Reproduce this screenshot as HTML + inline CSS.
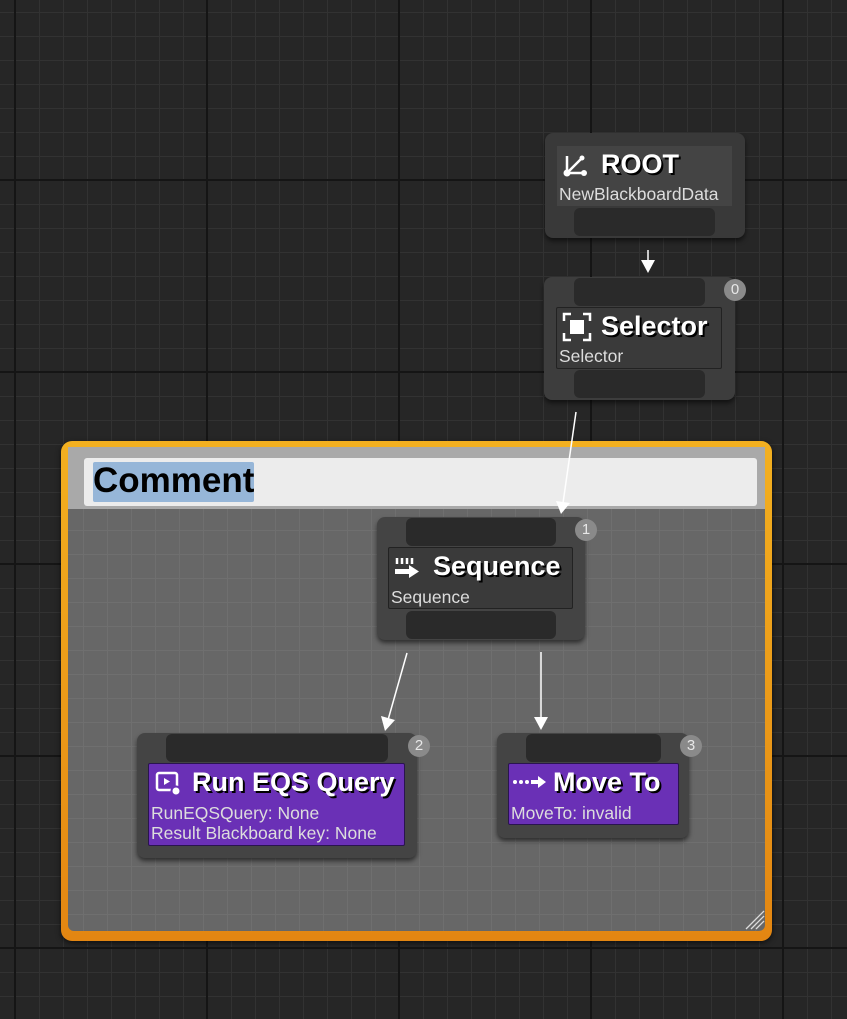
<!DOCTYPE html>
<html><head><meta charset="utf-8"><style>
*{margin:0;padding:0;box-sizing:border-box}
body{width:847px;height:1019px;overflow:hidden;position:relative;font-family:"Liberation Sans","DejaVu Sans",sans-serif;
background-color:#262626;
background-image:
linear-gradient(to right,#151515 2px,transparent 2px),
linear-gradient(to bottom,#151515 2px,transparent 2px),
linear-gradient(to right,#323232 1px,transparent 1px),
linear-gradient(to bottom,#323232 1px,transparent 1px);
background-size:192px 192px,192px 192px,24px 24px,24px 24px;
background-position:14px 0,0 179px,15px 0,0 12px;}
.abs{position:absolute}
.comment{left:61px;top:441px;width:711px;height:500px;border-radius:11px;background:linear-gradient(#f3b020,#e38612);box-shadow:0 2px 6px rgba(0,0,0,.6)}
.cbody{left:68px;top:447px;width:697px;height:484px;border-radius:4px 4px 6px 6px;background-color:#676767;
background-image:linear-gradient(to right,#6f6f6f 1px,transparent 1px),linear-gradient(to bottom,#6f6f6f 1px,transparent 1px);
background-size:24px 24px,24px 24px;background-position:15px 0,0 11px}
.chead{left:68px;top:447px;width:697px;height:62px;background:#a9a9a9}
.cbox{left:84px;top:458px;width:673px;height:48px;background:#ececec;border-radius:3px}
.sel{left:93px;top:462px;width:161px;height:40px;background:#96b6d8;border-radius:2px}
.ctext{left:93px;top:461px;font-size:35px;font-weight:bold;color:#000;line-height:40px}
.node{background:#3d3d3d;border-radius:8px;box-shadow:0 3px 5px rgba(0,0,0,.55)}
.pin{background:#2a2a2a;border-radius:6px}
.inner{background:#3a3a3a;border:1px solid #222;border-radius:2px}
.purple{background:#6a30b6;border:1px solid #2a1450;border-radius:2px}
.title{color:#fff;font-weight:bold;font-size:27px;text-shadow:2px 2px 0 #000;white-space:nowrap;line-height:32px}
.sub{color:#ddd;font-size:17.5px;white-space:nowrap;line-height:20px}
.badge{width:22px;height:22px;border-radius:50%;background:#8a8a8a;color:#e8e8e8;font-size:15px;text-align:center;line-height:22px}
</style></head><body>

<div class="abs comment"></div>
<div class="abs cbody"></div>
<div class="abs chead"></div>
<div class="abs cbox"></div>
<div class="abs sel"></div>
<div class="abs ctext">Comment</div>

<!-- ROOT -->
<div class="abs node" style="left:545px;top:133px;width:200px;height:105px;background:#393939"></div>
<div class="abs" style="left:557px;top:146px;width:175px;height:60px;background:#444"></div>
<div class="abs pin" style="left:574px;top:208px;width:141px;height:28px"></div>
<svg class="abs" style="left:562px;top:151px" width="28" height="28"><path d="M5 5 V22 H22 M5 22 L20 7" stroke="#fff" stroke-width="2.5" fill="none"/><circle cx="5" cy="22" r="3.5" fill="#fff"/><circle cx="22" cy="22" r="3" fill="#fff"/><circle cx="20" cy="7" r="2.5" fill="#fff"/></svg>
<div class="abs title" style="left:601px;top:148px">ROOT</div>
<div class="abs sub" style="left:559px;top:184px">NewBlackboardData</div>

<!-- Selector -->
<div class="abs node" style="left:544px;top:277px;width:191px;height:123px"></div>
<div class="abs pin" style="left:574px;top:278px;width:131px;height:28px"></div>
<div class="abs inner" style="left:556px;top:307px;width:166px;height:62px"></div>
<div class="abs pin" style="left:574px;top:370px;width:131px;height:28px"></div>
<svg class="abs" style="left:562px;top:312px" width="30" height="30"><path d="M2 9V2H9 M21 2H28V9 M28 21V28H21 M9 28H2V21" stroke="#fff" stroke-width="2.5" fill="none"/><rect x="8" y="8" width="14" height="14" fill="#fff"/></svg>
<div class="abs title" style="left:601px;top:310px">Selector</div>
<div class="abs sub" style="left:559px;top:346px">Selector</div>
<div class="abs badge" style="left:724px;top:279px">0</div>

<!-- Sequence -->
<div class="abs node" style="left:377px;top:517px;width:208px;height:123px;background:#444"></div>
<div class="abs pin" style="left:406px;top:518px;width:150px;height:28px"></div>
<div class="abs inner" style="left:388px;top:547px;width:185px;height:62px"></div>
<div class="abs pin" style="left:406px;top:611px;width:150px;height:28px"></div>
<svg class="abs" style="left:393px;top:555px" width="30" height="26"><path d="M4 3v6 M9 3v6 M14 3v6 M19 3v6" stroke="#fff" stroke-width="2.5"/><path d="M2 14H16 V10 L26 16.5 L16 23 V19 H2Z" fill="#fff"/></svg>
<div class="abs title" style="left:433px;top:550px">Sequence</div>
<div class="abs sub" style="left:391px;top:587px">Sequence</div>
<div class="abs badge" style="left:575px;top:519px">1</div>

<!-- Run EQS -->
<div class="abs node" style="left:137px;top:733px;width:280px;height:125px;background:#444"></div>
<div class="abs pin" style="left:166px;top:734px;width:222px;height:28px"></div>
<div class="abs purple" style="left:148px;top:763px;width:257px;height:83px"></div>
<svg class="abs" style="left:155px;top:770px" width="28" height="28"><rect x="2" y="3" width="20" height="17" rx="2" stroke="#fff" stroke-width="2.5" fill="none"/><path d="M9 8L15 11.5L9 15Z" fill="#fff"/><circle cx="21" cy="21" r="4.5" fill="#fff" stroke="#6a30b6" stroke-width="2"/></svg>
<div class="abs title" style="left:192px;top:766px">Run EQS Query</div>
<div class="abs sub" style="left:151px;top:803px">RunEQSQuery: None</div>
<div class="abs sub" style="left:151px;top:823px">Result Blackboard key: None</div>
<div class="abs badge" style="left:408px;top:735px">2</div>

<!-- Move To -->
<div class="abs node" style="left:497px;top:733px;width:192px;height:105px;background:#444"></div>
<div class="abs pin" style="left:526px;top:734px;width:135px;height:28px"></div>
<div class="abs purple" style="left:508px;top:763px;width:171px;height:62px"></div>
<svg class="abs" style="left:512px;top:772px" width="36" height="20"><circle cx="3" cy="10" r="2" fill="#fff"/><circle cx="9" cy="10" r="2" fill="#fff"/><circle cx="15" cy="10" r="2" fill="#fff"/><path d="M19 8H26V4L34 10L26 16V12H19Z" fill="#fff"/></svg>
<div class="abs title" style="left:553px;top:766px">Move To</div>
<div class="abs sub" style="left:511px;top:803px">MoveTo: invalid</div>
<div class="abs badge" style="left:680px;top:735px">3</div>

<svg class="abs" style="left:0;top:0" width="847" height="1019">
<g stroke="#fff" stroke-width="1.5" fill="#fff">
<line x1="648" y1="250" x2="648" y2="264"/><path d="M641 260L655 260L648 273Z" stroke="none"/>
<line x1="576" y1="412" x2="563" y2="503"/><path d="M556 501L570 503L561 514Z" stroke="none"/>
<line x1="407" y1="653" x2="388" y2="720"/><path d="M381 716L395 720L385 731Z" stroke="none"/>
<line x1="541" y1="652" x2="541" y2="720"/><path d="M534 717L548 717L541 730Z" stroke="none"/>
</g>
<g stroke="#ddd" stroke-width="1.3"><line x1="746" y1="929" x2="764" y2="911"/><line x1="751" y1="929" x2="764" y2="916"/><line x1="756" y1="929" x2="764" y2="921"/></g>
</svg>
</body></html>
